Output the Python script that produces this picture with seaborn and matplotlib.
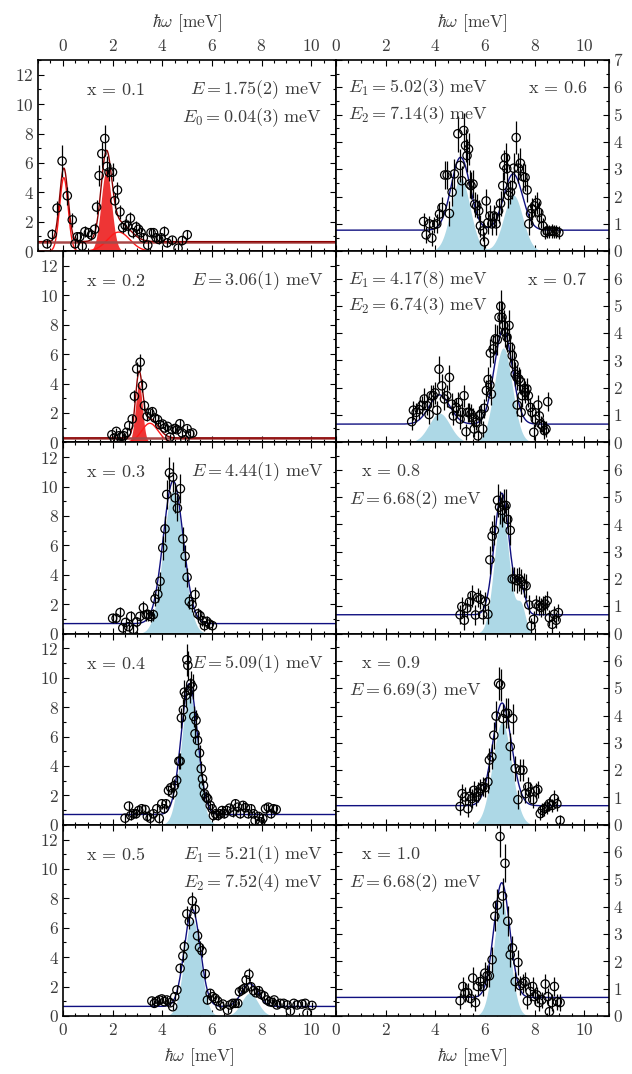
import numpy as np
import matplotlib
matplotlib.use("Agg")
import matplotlib.pyplot as plt
import seaborn as sns
from matplotlib.ticker import MultipleLocator

sns.set_style("ticks")
plt.rcParams["font.family"] = ["cmr10", "DejaVu Serif"]
plt.rcParams["mathtext.fontset"] = "cm"
plt.rcParams["axes.unicode_minus"] = False
plt.rcParams["axes.formatter.use_mathtext"] = True

# ---------------- data ----------------
E01 = [-0.64,-0.43,-0.23,-0.03,0.18,0.38,0.49,0.58,0.68,0.78,0.89,1.03,1.15,1.28,1.36,1.46,1.57,1.69,1.77,1.86,2.0,2.09,2.2,2.3,2.41,2.51,2.61,2.72,2.81,2.95,3.05,3.15,3.24,3.42,3.55,3.65,3.76,3.86,3.96,4.09,4.2,4.41,4.64,4.81,5.01]
I01 = [0.5,1.14,2.93,6.13,3.77,2.13,0.5,0.98,0.98,0.34,1.33,1.26,1.1,1.49,3.0,5.14,6.63,7.66,5.76,5.37,5.37,3.43,4.16,2.67,1.6,1.76,1.71,2.24,1.26,1.65,1.49,1.26,0.91,0.41,1.26,1.26,0.91,0.8,0.91,1.33,0.57,0.75,0.2,0.73,1.12]
D01 = [0.3,0.35,0.5,1.1,0.6,0.5,0.3,0.35,0.35,0.3,0.35,0.35,0.35,0.4,0.5,0.7,0.8,0.95,0.7,0.6,0.6,0.5,0.55,0.45,0.35,0.4,0.4,0.45,0.35,0.4,0.35,0.35,0.3,0.3,0.35,0.35,0.3,0.3,0.3,0.35,0.3,0.3,0.3,0.3,0.35]

E02 = [1.97,2.06,2.15,2.26,2.36,2.45,2.56,2.65,2.79,2.88,2.97,3.11,3.2,3.28,3.39,3.5,3.6,3.7,3.81,3.9,4.01,4.1,4.21,4.31,4.4,4.51,4.6,4.71,4.8,4.91,5.0,5.11,5.22]
I02 = [0.52,0.3,0.75,0.45,0.41,0.45,0.68,1.14,1.59,3.14,5.0,5.45,3.86,2.5,1.77,2.0,2.09,1.66,1.55,1.2,1.25,0.98,1.09,0.36,0.86,0.95,0.86,1.27,0.64,0.18,0.93,0.59,0.64]
D02 = [0.2,0.2,0.2,0.2,0.2,0.2,0.2,0.25,0.3,0.4,0.5,0.55,0.45,0.35,0.3,0.3,0.3,0.3,0.3,0.25,0.25,0.25,0.25,0.2,0.25,0.25,0.25,0.3,0.25,0.2,0.25,0.2,0.2]

E03 = [2.0,2.14,2.3,2.41,2.52,2.64,2.73,2.84,2.97,3.1,3.24,3.35,3.44,3.53,3.64,3.71,3.82,3.91,4.02,4.11,4.18,4.29,4.42,4.52,4.61,4.73,4.83,4.92,5.0,5.09,5.2,5.32,5.43,5.52,5.62,5.7,5.79,5.9,6.02]
I03 = [1.04,1.04,1.43,0.38,0.76,0.47,1.17,0.29,0.79,1.17,1.76,1.29,1.29,1.17,1.29,2.36,2.68,3.56,5.83,7.12,9.46,10.93,10.64,9.23,8.53,9.85,6.44,5.26,3.83,2.18,1.97,2.65,1.34,1.22,0.88,0.54,0.83,0.65,0.54]
D03 = [0.35,0.35,0.4,0.35,0.35,0.35,0.4,0.35,0.35,0.4,0.45,0.4,0.4,0.4,0.4,0.5,0.55,0.6,0.8,0.9,1.0,1.1,1.0,1.0,0.9,1.0,0.8,0.75,0.65,0.5,0.5,0.55,0.4,0.4,0.35,0.35,0.35,0.35,0.35]

E04 = [2.5,2.64,2.73,2.84,2.94,3.05,3.17,3.31,3.4,3.51,3.64,3.78,3.88,3.98,4.07,4.15,4.25,4.34,4.42,4.49,4.58,4.67,4.72,4.77,4.85,4.89,4.95,4.99,5.03,5.1,5.15,5.22,5.27,5.32,5.36,5.42,5.5,5.57,5.62,5.66,5.7,5.77,5.83,5.93,6.01,6.06,6.15,6.24,6.33,6.41,6.5,6.6,6.71,6.84,6.95,7.04,7.14,7.25,7.35,7.46,7.57,7.68,7.74,7.88,7.97,8.05,8.16,8.27,8.38,8.48,8.59]
I04 = [0.45,1.27,0.63,0.75,0.75,0.97,1.09,1.04,0.57,0.45,0.75,1.09,0.43,1.43,1.09,1.43,2.33,2.52,2.15,2.67,3.02,4.33,4.33,7.27,7.82,9.02,8.8,11.22,10.84,9.14,9.59,9.37,7.37,6.19,7.1,5.74,4.88,3.81,3.13,2.67,2.11,1.88,1.77,1.32,1.09,0.63,0.75,0.63,0.75,0.97,0.75,0.97,1.13,0.86,1.43,1.2,0.75,1.32,1.16,0.75,1.09,0.75,0.29,0.57,0.2,0.43,1.09,1.2,0.75,1.09,1.04]
D04 = [0.3,0.35,0.3,0.3,0.3,0.3,0.3,0.3,0.3,0.3,0.3,0.3,0.3,0.35,0.3,0.35,0.4,0.4,0.4,0.45,0.45,0.55,0.55,0.7,0.75,0.8,0.8,1.1,1.0,0.85,0.85,0.85,0.7,0.65,0.7,0.6,0.55,0.5,0.45,0.45,0.4,0.4,0.4,0.35,0.35,0.3,0.3,0.3,0.3,0.3,0.3,0.3,0.3,0.3,0.35,0.3,0.3,0.3,0.3,0.3,0.3,0.3,0.3,0.3,0.3,0.3,0.3,0.3,0.3,0.3,0.3]

E05 = [3.58,3.68,3.78,3.88,3.98,4.09,4.18,4.32,4.42,4.5,4.59,4.72,4.83,4.89,4.99,5.09,5.21,5.32,5.42,5.5,5.6,5.73,5.82,5.93,6.03,6.13,6.23,6.33,6.44,6.63,6.73,6.84,6.94,7.04,7.11,7.22,7.31,7.38,7.49,7.57,7.68,7.77,7.88,7.98,8.1,8.21,8.32,8.43,8.51,8.62,8.75,8.89,9.03,9.16,9.3,9.43,9.63,9.76,9.83,10.03]
I05 = [1.02,0.86,0.97,1.09,1.16,0.97,1.09,0.9,0.63,1.31,1.77,3.24,4.08,4.72,6.94,6.42,7.83,7.26,5.45,4.66,4.43,2.87,1.09,1.54,1.31,1.2,1.02,0.68,0.81,0.4,0.75,0.86,0.86,0.86,1.65,1.77,1.88,2.45,2.83,1.99,1.72,1.58,1.72,1.47,1.36,1.09,0.97,0.93,1.09,0.75,0.86,0.86,0.75,0.34,0.86,0.75,0.81,0.86,0.2,0.72]
D05 = [0.25,0.25,0.25,0.25,0.25,0.25,0.25,0.25,0.25,0.25,0.3,0.35,0.4,0.45,0.55,0.5,0.6,0.55,0.45,0.45,0.45,0.35,0.25,0.3,0.25,0.25,0.25,0.2,0.2,0.2,0.2,0.2,0.2,0.2,0.3,0.3,0.3,0.35,0.45,0.3,0.3,0.3,0.3,0.25,0.25,0.25,0.2,0.2,0.2,0.2,0.2,0.2,0.2,0.2,0.2,0.2,0.2,0.2,0.2,0.2]

E06 = [3.53,3.63,3.76,3.86,3.94,4.06,4.17,4.27,4.38,4.48,4.57,4.68,4.77,4.91,5.0,5.07,5.15,5.22,5.28,5.34,5.38,5.44,5.52,5.59,5.67,5.75,5.82,5.91,5.98,6.05,6.12,6.2,6.28,6.36,6.45,6.55,6.63,6.72,6.76,6.83,6.88,6.95,7.03,7.1,7.16,7.26,7.35,7.43,7.53,7.62,7.7,7.77,7.84,7.9,8.0,8.09,8.17,8.27,8.33,8.43,8.51,8.6,8.7,8.78,8.87,8.98]
I06 = [1.09,0.6,1.0,0.48,0.97,1.0,1.36,1.6,2.79,2.79,1.38,2.16,2.83,4.3,3.14,2.58,4.42,3.87,3.5,3.74,2.46,2.4,2.46,1.72,1.66,1.48,0.93,0.74,0.34,1.84,1.04,1.29,1.0,1.29,1.0,1.48,1.75,2.4,3.14,3.42,3.02,2.04,2.16,2.4,3.04,4.16,3.04,3.22,2.73,2.7,2.24,1.0,1.37,1.55,1.66,1.77,1.42,1.2,0.93,0.68,0.74,0.72,0.74,0.72,0.72,0.68]
D06 = [0.3,0.3,0.3,0.3,0.3,0.35,0.4,0.4,0.5,0.5,0.45,0.5,0.55,0.65,0.6,0.55,0.65,0.6,0.6,0.6,0.5,0.5,0.5,0.45,0.45,0.4,0.4,0.35,0.35,0.45,0.4,0.4,0.4,0.4,0.4,0.45,0.45,0.5,0.55,0.55,0.55,0.45,0.45,0.5,0.55,0.6,0.55,0.55,0.5,0.5,0.45,0.4,0.4,0.4,0.4,0.4,0.4,0.35,0.3,0.25,0.25,0.25,0.25,0.25,0.25,0.25]

E07 = [3.05,3.12,3.23,3.35,3.46,3.56,3.66,3.75,3.83,3.92,3.99,4.06,4.15,4.26,4.37,4.46,4.57,4.66,4.73,4.84,4.93,5.0,5.06,5.16,5.24,5.3,5.37,5.44,5.5,5.57,5.64,5.71,5.77,5.84,5.91,5.97,6.06,6.13,6.2,6.22,6.26,6.33,6.42,6.5,6.57,6.64,6.69,6.76,6.82,6.89,6.97,7.03,7.1,7.17,7.22,7.29,7.3,7.37,7.43,7.46,7.5,7.57,7.63,7.69,7.75,7.83,7.9,7.97,8.03,8.13,8.19,8.26,8.33,8.4,8.46,8.53]
I07 = [0.76,1.18,1.1,1.2,1.35,1.59,1.35,1.02,1.71,1.71,1.81,1.18,2.68,2.07,1.59,1.71,2.38,1.4,0.97,1.28,1.46,0.85,1.1,1.71,0.39,1.1,1.1,1.04,0.91,0.49,0.74,0.24,0.97,1.04,0.49,1.25,1.9,2.3,2.1,3.27,1.77,3.42,3.79,3.76,4.58,4.98,4.58,4.28,4.03,3.85,4.28,3.48,3.18,2.87,2.5,2.38,1.37,2.32,2.22,1.1,1.71,1.96,1.83,1.96,1.71,1.28,1.1,0.37,0.85,1.37,0.97,0.67,0.61,0.43,0.49,1.49]
D07 = [0.3,0.35,0.35,0.35,0.35,0.4,0.35,0.35,0.4,0.4,0.4,0.35,0.5,0.45,0.4,0.4,0.45,0.4,0.35,0.35,0.4,0.35,0.35,0.4,0.3,0.35,0.35,0.35,0.35,0.3,0.3,0.3,0.35,0.35,0.3,0.35,0.4,0.45,0.4,0.5,0.4,0.5,0.55,0.55,0.6,0.6,0.6,0.55,0.55,0.55,0.55,0.5,0.5,0.5,0.45,0.45,0.4,0.45,0.45,0.35,0.4,0.4,0.4,0.4,0.4,0.35,0.35,0.3,0.3,0.35,0.3,0.3,0.3,0.3,0.3,0.35]

E08 = [5.0,5.07,5.17,5.27,5.38,5.48,5.62,5.71,5.82,5.91,6.02,6.12,6.2,6.29,6.38,6.51,6.59,6.68,6.76,6.85,6.92,7.02,7.1,7.19,7.28,7.38,7.47,7.57,7.66,7.77,7.86,7.96,8.06,8.17,8.25,8.33,8.43,8.51,8.6,8.71,8.8,8.87,8.96]
I08 = [0.69,0.99,0.49,0.93,1.16,1.39,0.68,1.32,1.26,0.69,1.18,0.71,2.7,3.57,3.78,4.88,4.63,4.51,4.69,4.69,4.18,3.78,2.0,2.0,1.94,2.0,1.9,1.78,1.75,1.05,0.28,0.52,1.08,1.02,0.96,1.02,1.08,1.2,0.58,0.34,0.71,0.49,0.77]
D08 = [0.35,0.35,0.35,0.35,0.35,0.4,0.35,0.35,0.35,0.35,0.35,0.35,0.5,0.55,0.55,0.6,0.6,0.6,0.6,0.6,0.55,0.55,0.45,0.45,0.45,0.45,0.45,0.45,0.45,0.35,0.3,0.3,0.35,0.35,0.35,0.35,0.35,0.35,0.3,0.3,0.3,0.3,0.3]

E09 = [5.0,5.08,5.19,5.31,5.38,5.47,5.55,5.65,5.74,5.82,5.91,6.01,6.12,6.18,6.28,6.36,6.45,6.55,6.63,6.72,6.83,6.92,7.02,7.12,7.22,7.33,7.42,7.53,7.63,7.73,7.82,7.93,8.04,8.13,8.23,8.31,8.4,8.51,8.6,8.71,8.8,8.9,9.03]
I09 = [0.67,1.14,1.02,0.59,1.04,0.96,1.26,1.02,1.2,1.32,1.39,1.36,1.57,2.37,2.49,3.28,3.98,5.18,5.12,3.89,4.08,4.08,2.86,3.89,2.06,0.92,2.0,2.0,1.14,1.39,1.2,0.92,1.24,1.29,0.41,0.53,0.59,0.65,0.77,0.71,0.96,0.77,0.16]
D09 = [0.3,0.35,0.35,0.3,0.35,0.35,0.35,0.35,0.35,0.35,0.35,0.35,0.4,0.45,0.45,0.5,0.55,0.6,0.6,0.55,0.55,0.55,0.5,0.55,0.45,0.35,0.4,0.4,0.35,0.35,0.35,0.3,0.3,0.3,0.25,0.25,0.25,0.25,0.25,0.25,0.3,0.25,0.2]

E10 = [5.0,5.11,5.2,5.31,5.42,5.51,5.62,5.71,5.81,5.91,6.0,6.09,6.18,6.29,6.4,6.5,6.61,6.71,6.81,6.92,7.02,7.11,7.22,7.33,7.42,7.53,7.62,7.71,7.82,7.92,8.0,8.09,8.18,8.29,8.43,8.53,8.6,8.69,8.8,8.92,9.03]
I10 = [0.56,1.08,0.85,0.85,0.64,1.39,0.49,1.08,1.26,1.08,1.57,1.47,1.47,2.06,3.65,4.06,6.57,4.39,5.59,3.47,2.24,2.49,1.26,1.96,1.11,1.2,1.26,0.55,0.9,1.08,0.71,0.77,0.49,0.59,1.17,0.71,0.16,0.49,1.08,0.52,0.49]
D10 = [0.3,0.35,0.35,0.35,0.3,0.4,0.3,0.35,0.35,0.35,0.4,0.4,0.4,0.45,0.55,0.6,0.75,0.65,0.7,0.55,0.45,0.45,0.35,0.45,0.35,0.35,0.35,0.3,0.35,0.35,0.3,0.3,0.3,0.3,0.35,0.3,0.25,0.3,0.35,0.3,0.3]

# fit parameters: background and peaks (center, amplitude, width)
BG = [0.65, 0.3, 0.68, 0.7, 0.65, 0.77, 0.67, 0.69, 0.7, 0.68]
PEAKS = [
    [(1.75, 5.5, 0.21), (0.04, 5.0, 0.17), (2.25, 1.3, 0.45)],
    [(3.06, 4.0, 0.14), (3.5, 1.3, 0.33)],
    [(4.44, 9.7, 0.40)],
    [(5.09, 8.9, 0.33)],
    [(5.21, 6.6, 0.32), (7.52, 1.55, 0.33)],
    [(5.02, 2.67, 0.38), (7.14, 2.06, 0.38)],
    [(4.17, 1.07, 0.42), (6.74, 3.46, 0.36)],
    [(6.68, 4.45, 0.30), (7.45, 1.0, 0.18)],
    [(6.69, 3.76, 0.38)],
    [(6.68, 4.2, 0.32)],
]
XVALS = ["0.1", "0.2", "0.3", "0.4", "0.5", "0.6", "0.7", "0.8", "0.9", "1.0"]
ENERGY_TEXT = [
    [r"$E = 1.75(2)\ \mathrm{meV}$", r"$E_0 = 0.04(3)\ \mathrm{meV}$"],
    [r"$E = 3.06(1)\ \mathrm{meV}$"],
    [r"$E = 4.44(1)\ \mathrm{meV}$"],
    [r"$E = 5.09(1)\ \mathrm{meV}$"],
    [r"$E_1 = 5.21(1)\ \mathrm{meV}$", r"$E_2 = 7.52(4)\ \mathrm{meV}$"],
    [r"$E_1 = 5.02(3)\ \mathrm{meV}$", r"$E_2 = 7.14(3)\ \mathrm{meV}$"],
    [r"$E_1 = 4.17(8)\ \mathrm{meV}$", r"$E_2 = 6.74(3)\ \mathrm{meV}$"],
    [r"$E = 6.68(2)\ \mathrm{meV}$"],
    [r"$E = 6.69(3)\ \mathrm{meV}$"],
    [r"$E = 6.68(2)\ \mathrm{meV}$"],
]
DATA = [(E01, I01, D01), (E02, I02, D02), (E03, I03, D03), (E04, I04, D04), (E05, I05, D05),
        (E06, I06, D06), (E07, I07, D07), (E08, I08, D08), (E09, I09, D09), (E10, I10, D10)]

# ---------------- layout ----------------
W, H = 632, 1074
fig = plt.figure(figsize=(W / 100, H / 100), dpi=100)
row_top = [60, 251.2, 442.4, 633.6, 824.8]
row_h = 191.2
TXT = "#3c3c3c"
XLAB = r"$\hbar\omega$ [meV]"


def gauss(x, c, a, s):
    return a * np.exp(-(x - c) ** 2 / (2 * s ** 2))


for k in range(10):
    col = 0 if k < 5 else 1
    row = k % 5
    if col == 0:
        x0 = 38 if row == 0 else 63
        x1 = 336
        xlim = (-1, 11) if row == 0 else (0, 11)
        ylim = (0, 13)
    else:
        x0, x1 = 336, 609
        xlim = (0, 11)
        ylim = (0, 7)
    top = row_top[row]
    ax = fig.add_axes([x0 / W, 1 - (top + row_h) / H, (x1 - x0) / W, row_h / H])
    ax.set_xlim(*xlim)
    ax.set_ylim(*ylim)

    E, I, D = DATA[k]
    xg = np.linspace(xlim[0], xlim[1], 1500)
    comps = [gauss(xg, *p) for p in PEAKS[k]]
    total = BG[k] + np.sum(comps, axis=0)

    if k < 2:
        ax.fill_between(xg, 0, comps[0], color="#ee3535", lw=0, zorder=1)
        for cpt in comps[1:]:
            sns.lineplot(x=xg, y=cpt, ax=ax, color="#ff1a1a", lw=1.0, zorder=2)
        ax.axhline(BG[k], color="#a84848", lw=1.8, zorder=2)
        sns.lineplot(x=xg, y=total, ax=ax, color="#8b0000", lw=1.0, zorder=2.5)
    else:
        ax.fill_between(xg, 0, np.sum(comps, axis=0), color="#add8e6", lw=0, zorder=1)
        sns.lineplot(x=xg, y=total, ax=ax, color="#101080", lw=1.0, zorder=2.5)

    ax.errorbar(E, I, yerr=D, fmt="none", ecolor="black", elinewidth=0.9, zorder=3)
    sns.scatterplot(x=E, y=I, ax=ax, marker="o", s=36, facecolor="none",
                    edgecolor="black", linewidth=0.9, zorder=4)

    # ticks
    ax.xaxis.set_major_locator(MultipleLocator(2))
    ax.xaxis.set_minor_locator(MultipleLocator(0.5))
    if col == 0:
        ax.yaxis.set_major_locator(MultipleLocator(2))
        ax.yaxis.set_minor_locator(MultipleLocator(1))
    else:
        ax.set_yticks(range(8))
        ax.set_yticklabels([str(i) for i in range(7)] + (["7"] if row == 0 else [""]))
        ax.yaxis.set_minor_locator(MultipleLocator(0.5))
    ax.tick_params(which="both", direction="in", top=True, right=True, bottom=True, left=True,
                   labelsize=12.5, labelcolor=TXT, width=0.8, color="black")
    ax.tick_params(which="major", length=4.5)
    ax.tick_params(which="minor", length=2.5)
    ax.tick_params(axis="y", labelleft=(col == 0), labelright=(col == 1), pad=3)
    ax.tick_params(axis="x", labeltop=(row == 0), labelbottom=(row == 4), pad=4)
    for sp in ax.spines.values():
        sp.set_linewidth(1.2)
        sp.set_color("black")
        sp.set_visible(True)
    ax.set_ylabel("")
    if row == 0:
        ax.xaxis.set_label_position("top")
        ax.set_xlabel(XLAB, fontsize=12.5, color=TXT, labelpad=8)
    elif row == 4:
        ax.set_xlabel(XLAB, fontsize=12.5, color=TXT, labelpad=6)
    else:
        ax.set_xlabel("")

    # annotations
    fs = 13
    xt = r"$\mathrm{x}\,=\,\mathrm{" + XVALS[k] + "}$"
    if col == 0:
        if row == 0:
            ax.text(0.26, 0.845, xt, transform=ax.transAxes, ha="center", va="center", fontsize=fs, color=TXT)
        else:
            ax.text(0.194, 0.843, xt, transform=ax.transAxes, ha="center", va="center", fontsize=fs, color=TXT)
        for j, t in enumerate(ENERGY_TEXT[k]):
            ax.text(0.953, 0.845 - 0.148 * j, t, transform=ax.transAxes, ha="right", va="center",
                    fontsize=fs, color=TXT, zorder=5)
    else:
        if row <= 1:
            ax.text(0.92, 0.853, xt, transform=ax.transAxes, ha="right", va="center", fontsize=fs, color=TXT)
            for j, t in enumerate(ENERGY_TEXT[k]):
                ax.text(0.044, 0.853 - 0.139 * j, t, transform=ax.transAxes, ha="left", va="center",
                        fontsize=fs, color=TXT, zorder=5)
        else:
            ax.text(0.092, 0.848, xt, transform=ax.transAxes, ha="left", va="center", fontsize=fs, color=TXT)
            ax.text(0.048, 0.70, ENERGY_TEXT[k][0], transform=ax.transAxes, ha="left", va="center",
                    fontsize=fs, color=TXT, zorder=5)

fig.savefig("out.png", dpi=100)
